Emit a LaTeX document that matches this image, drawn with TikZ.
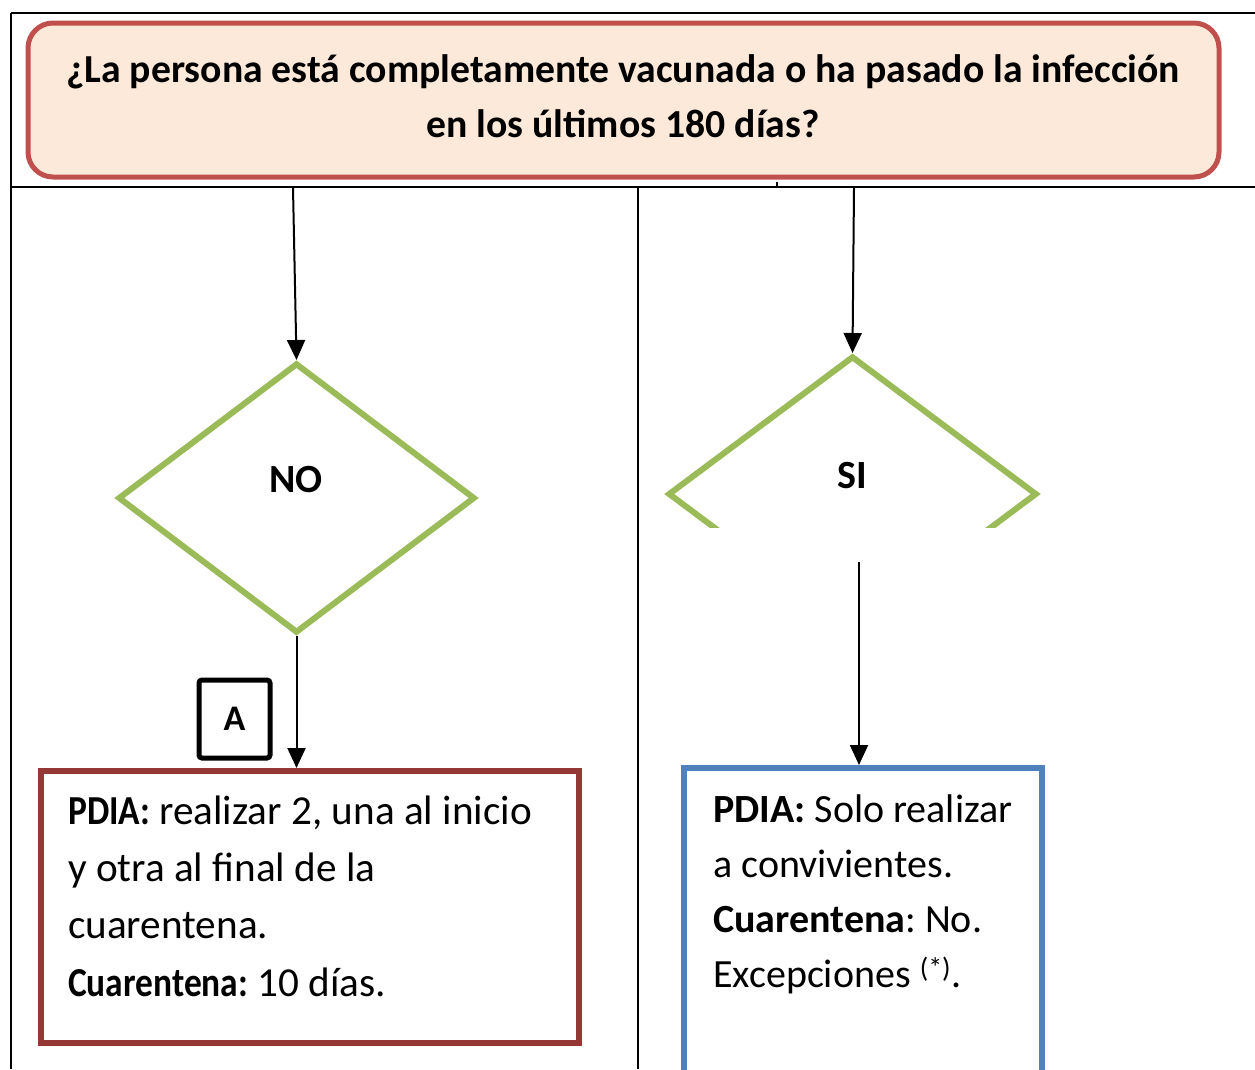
\documentclass[tikz,border=0pt]{standalone}
\usepackage{fontspec}
\setmainfont{Carlito}
\usetikzlibrary{shapes.geometric}
\usetikzlibrary{arrows.meta}

\definecolor{peachfill}{HTML}{FDE9D9}
\definecolor{peachline}{HTML}{C0504D}
\definecolor{decgreen}{HTML}{9BBB59}
\definecolor{redline}{HTML}{953735}
\definecolor{blueline}{HTML}{4F81BD}

\newcommand{\narrowbf}[1]{\scalebox{0.86}[1]{\textbf{#1}}}

\tikzset{
	gridline/.style={line width=2pt},
	flow/.style={line width=2pt,-{Triangle[length=20pt,width=18pt]}},
	decision/.style={diamond,draw=decgreen,line width=6pt,inner sep=0pt},
	decisiontext/.style={font=\fontsize{40}{46}\selectfont\bfseries},
	resultbox/.style={rectangle,line width=6pt,inner sep=0pt},
	resulttext/.style={anchor=base west,inner sep=0pt,align=left},
}

\begin{document}
\frenchspacing
\begin{tikzpicture}[x=1pt,y=-1pt]
		\useasboundingbox (0,0) rectangle (1255,1069);
		% table lines
		\draw[gridline] (11,13) -- (1255,13);
		\draw[gridline] (11,187) -- (1255,187);
		\draw[gridline] (11,13) -- (11,1069);
		\draw[gridline] (638,187) -- (638,1069);
		\draw[gridline] (777,182) -- (777,187);
		% question
		\node[draw=peachline,fill=peachfill,line width=5pt,rounded corners=25pt,minimum width=1191pt,minimum height=154pt] (question) at (623.5,100) {};
		\node[anchor=base,align=center,inner sep=0pt,font=\fontsize{39.7}{55}\selectfont\bfseries] (questiontext) at (623,137) {¿La persona está completamente vacunada o ha pasado la infección\\en los últimos 180 días?};
		% decisions
		\node[decision,minimum width=357pt,minimum height=270pt] (no) at (296.5,498) {};
		\node[decisiontext] (notext) at (296,480) {NO};
		\begin{scope}
		\clip (600,300) rectangle (1100,527);
		\node[decision,minimum width=369pt,minimum height=276pt] (si) at (852.5,494) {};
		\end{scope}
		\node[decisiontext] (sitext) at (852,476) {SI};
		\coordinate (noin) at (293,188);
		\coordinate (siin) at (854,188);
		\coordinate (siout) at (859,562);
		% results
		\node[resultbox,draw=redline,minimum width=538pt,minimum height=272pt] (noresult) at (310,907) {};
		\node[resultbox,draw=blueline,minimum width=358pt,minimum height=352pt] (siresult) at (863,944) {};
		\node[draw,line width=5pt,rounded corners=3pt,minimum width=71pt,minimum height=78pt,inner sep=0pt,font=\fontsize{36}{40}\selectfont\bfseries] (boxa) at (234.5,719) {A};
		\node[resulttext,font=\fontsize{41.2}{57.3}\selectfont] (noresulttext) at (68,996) {\narrowbf{PDIA:} realizar 2, una al inicio\\y otra al final de la\\cuarentena.\\\narrowbf{Cuarentena:} 10 días.};
		\node[resulttext,font=\fontsize{40}{55}\selectfont] (siresulttext) at (713,987) {\textbf{PDIA:} Solo realizar\\a convivientes.\\\textbf{Cuarentena}: No.\\Excepciones \textsuperscript{(*)}.};
		% arrows
		\draw[flow] (noin) -- (no.north);
		\draw[flow] (siin) -- (si.north);
		\draw[flow] (no.south) -- (no.south |- noresult.north);
		\draw[flow] (siout) -- (siout |- siresult.north);
	\end{tikzpicture}
\end{document}
